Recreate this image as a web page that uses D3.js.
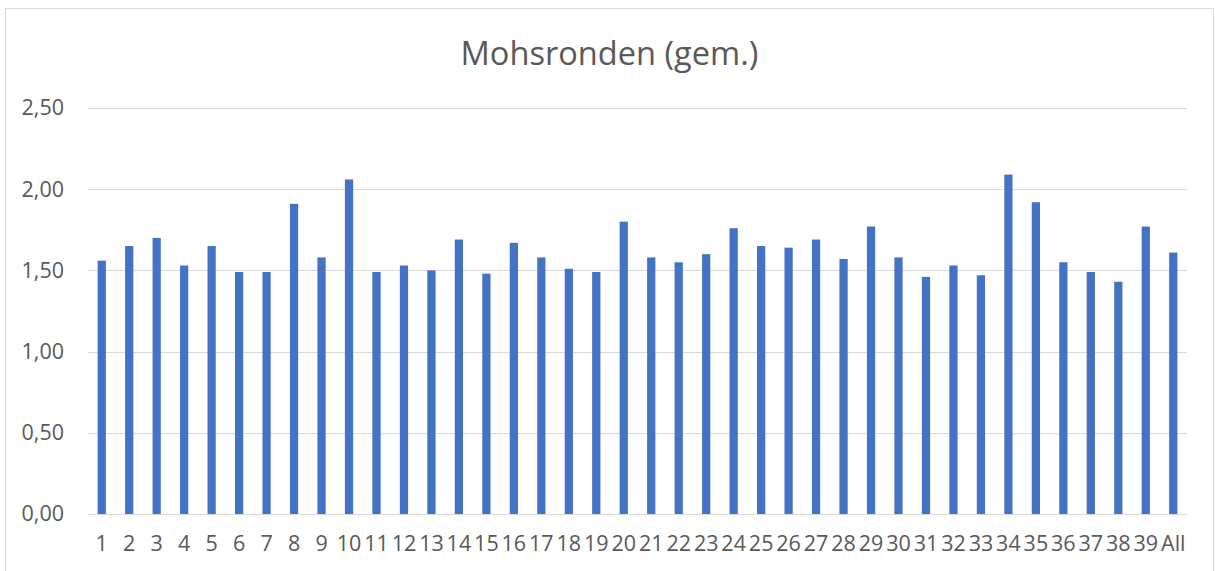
<!DOCTYPE html>
<html>
<head>
<meta charset="utf-8">
<script src="https://cdn.jsdelivr.net/npm/d3@7"></script>
<style>
  html, body { margin: 0; padding: 0; background: #fff; }
  svg { display: block; font-family: "Open Sans", sans-serif; }
</style>
</head>
<body>
<svg id="chart" width="1215" height="571"></svg>
<script>
// Mohsronden (gem.) per ronde, plus overall average
const categories = ["1","2","3","4","5","6","7","8","9","10","11","12","13","14","15","16","17","18","19","20",
  "21","22","23","24","25","26","27","28","29","30","31","32","33","34","35","36","37","38","39","All"];
const values = [1.56, 1.65, 1.70, 1.53, 1.65, 1.49, 1.49, 1.91, 1.58, 2.06, 1.49, 1.53, 1.50, 1.69, 1.48, 1.67, 1.58, 1.51, 1.49, 1.80,
  1.58, 1.55, 1.60, 1.76, 1.65, 1.64, 1.69, 1.57, 1.77, 1.58, 1.46, 1.53, 1.47, 2.09, 1.92, 1.55, 1.49, 1.43, 1.77, 1.61];
const yTicks = [0, 0.5, 1, 1.5, 2, 2.5];
const title = "Mohsronden (gem.)";

const W = 1215, H = 571;
const M = { top: 108, right: 28, bottom: 57, left: 88 };
const ink = "#595959", grid = "#d9d9d9", bar = "#4472c4";

const svg = d3.select("#chart");

// chart frame (bottom edge is cropped off in the original)
svg.append("rect")
  .attr("x", 5.5).attr("y", 8.5).attr("width", W - 7).attr("height", H + 20)
  .attr("fill", "#fff").attr("stroke", grid).attr("stroke-width", 1);

const x = d3.scaleBand().domain(categories)
  .range([M.left, W - M.right]).paddingInner(0.7).paddingOuter(0.35);
const y = d3.scaleLinear().domain([0, 2.5]).range([H - M.bottom, M.top]);

const fmt = d => d3.format(".2f")(d).replace(".", ",");

// gridlines
svg.append("g").selectAll("line").data(yTicks).join("line")
  .attr("x1", M.left).attr("x2", W - M.right)
  .attr("y1", d => Math.round(y(d)) + 0.5).attr("y2", d => Math.round(y(d)) + 0.5)
  .attr("stroke", grid).attr("stroke-width", 1);

// y axis labels
const gy = svg.append("g").attr("transform", `translate(${M.left - 24},0)`)
  .call(d3.axisLeft(y).tickValues(yTicks).tickFormat(fmt).tickSize(0).tickPadding(0));
gy.select(".domain").remove();
gy.selectAll("text").attr("fill", ink).attr("font-size", 21.5)
  .attr("font-family", "'Open Sans', sans-serif");

// bars
svg.append("g").selectAll("rect").data(values).join("rect")
  .attr("x", (d, i) => x(categories[i]))
  .attr("width", x.bandwidth())
  .attr("y", d => y(d))
  .attr("height", d => y(0) - y(d))
  .attr("fill", bar);

// x axis labels
const gx = svg.append("g").attr("transform", `translate(0,${H - M.bottom})`)
  .call(d3.axisBottom(x).tickSize(0).tickPadding(22));
gx.select(".domain").remove();
gx.selectAll("text").attr("fill", ink).attr("font-size", 21.5)
  .attr("font-family", "'Open Sans', sans-serif");

// title
svg.append("text")
  .attr("x", (5.5 + W - 1.5) / 2).attr("y", 65)
  .attr("text-anchor", "middle")
  .attr("font-size", 32.6).attr("fill", ink)
  .text(title);
</script>
</body>
</html>
